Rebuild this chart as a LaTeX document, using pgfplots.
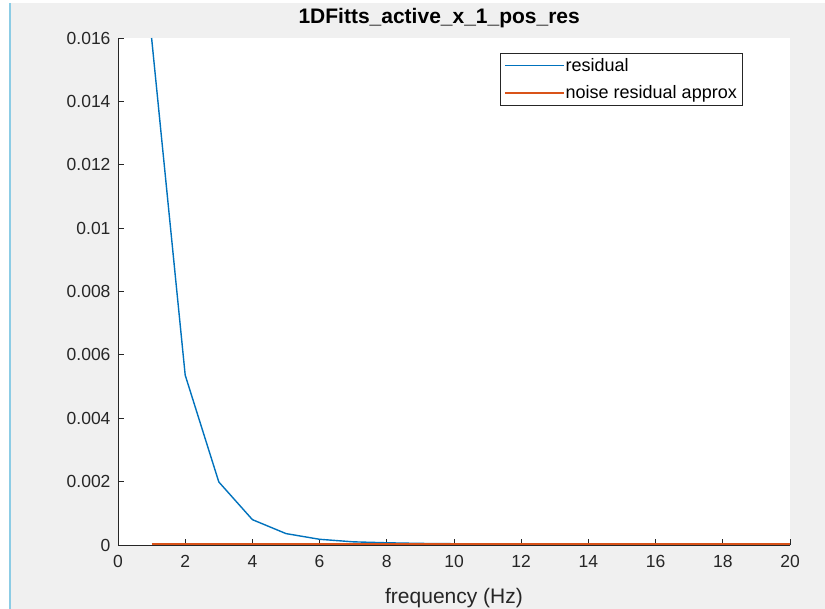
\documentclass[border=0pt]{standalone}
\usepackage{pgfplots}
\pgfplotsset{compat=1.18}
\usepackage{fontspec}
\setmainfont{Liberation Sans}
\definecolor{mblue}{rgb}{0,0.447,0.741}
\definecolor{morange}{rgb}{0.85,0.325,0.098}
\definecolor{figbg}{rgb}{0.94,0.94,0.94}
\definecolor{axgray}{rgb}{0.15,0.15,0.15}
\definecolor{edgeblue}{rgb}{0.55,0.80,0.90}
\begin{document}
\begin{tikzpicture}
\useasboundingbox (0,0) rectangle (825bp,609bp);
\fill[white] (0,0) rectangle (825bp,609bp);
\fill[figbg] (10bp,0) rectangle (825bp,606bp);
\draw[edgeblue,line width=1.2bp] (10bp,0) -- (10bp,606bp);
\begin{axis}[
  at={(118bp,64bp)}, anchor=south west,
  scale only axis, width=672bp, height=507bp,
  xmin=0, xmax=20, ymin=0, ymax=0.016,
  axis x line*=bottom, axis y line*=left,
  axis line style={axgray, line width=0.9bp},
  axis background/.style={fill=white},
  tick align=inside,
  major tick length=6bp,
  tick style={axgray, line width=0.8bp},
  xtick={0,2,...,20},
  ytick={0,0.002,0.004,0.006,0.008,0.01,0.012,0.014,0.016},
  scaled y ticks=false,
  yticklabel style={/pgf/number format/fixed, /pgf/number format/precision=3},
  /pgf/number format/assume math mode=true,
  tick label style={font=\fontsize{17.5bp}{20bp}\selectfont, text=axgray},
  xticklabel style={yshift=-7bp},
  yticklabel style={xshift=-4bp},
  xlabel={frequency (Hz)},
  xlabel style={font=\fontsize{21bp}{24bp}\selectfont, text=axgray, yshift=-14bp},
  title={\textbf{1DFitts\_active\_x\_1\_pos\_res}},
  title style={font=\fontsize{21bp}{24bp}\selectfont, text=black, at={(0.478,1)}, anchor=south, yshift=1bp},
  legend style={at={(0.9286,0.9704)}, anchor=north east, draw=axgray,
    font=\fontsize{18bp}{20bp}\selectfont, inner xsep=4bp, inner ysep=3bp,
    row sep=9bp, legend cell align=left,
    nodes={inner xsep=1bp}},
  clip=true,
]
\addplot[draw=mblue, line width=1.4bp,
  legend image code/.code={\draw[draw=mblue, line width=1.5bp] (0bp,0bp) -- (59bp,0bp);}] coordinates {
(1,0.0160) (2,0.00536) (3,0.00199) (4,0.00080) (5,0.00036) (6,0.00018)
(7,0.00010) (8,0.00007) (9,0.00005) (10,0.00004) (11,0.000035) (12,0.00003)
(13,0.00003) (14,0.00003) (15,0.00003) (16,0.00003) (17,0.00003) (18,0.00003)
(19,0.00003) (20,0.00003)};
\addlegendentry{residual}
\addplot[draw=morange, line width=1.4bp,
  legend image code/.code={\draw[draw=morange, line width=1.5bp] (0bp,0bp) -- (59bp,0bp);}] coordinates {
(1,0.00003) (2,0.00003) (3,0.00003) (4,0.00003) (5,0.00003) (6,0.00003)
(7,0.00003) (8,0.00003) (9,0.00003) (10,0.00003) (11,0.00003) (12,0.00003)
(13,0.00003) (14,0.00003) (15,0.00003) (16,0.00003) (17,0.00003) (18,0.00003)
(19,0.00003) (20,0.00003)};
\addlegendentry{noise residual approx}
\end{axis}
\end{tikzpicture}
\end{document}
